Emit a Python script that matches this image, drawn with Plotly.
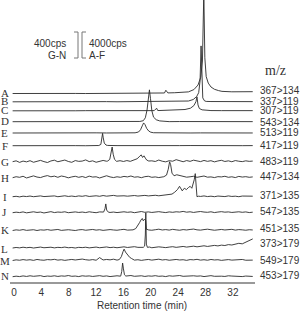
import numpy as np
import plotly.graph_objects as go

# ---------------- data ----------------
LETTERS = list("ABCDEFGHIJKLMN")
TRANSITIONS = ["367>134", "337>119", "307>119", "543>134", "513>119", "417>119",
               "483>119", "447>134", "371>135", "547>135", "451>135", "373>179",
               "549>179", "453>179"]
TIME_TICKS = [0, 4, 8, 12, 16, 20, 24, 28, 32]
T_START, T_END = -0.2, 34.9
SCALE_AF_CPS = 4000   # scale bar for traces A-F
SCALE_GN_CPS = 400    # scale bar for traces G-N

# baseline signal (cps), evenly spaced over the run
NOISE_A = [0, 20, -10, 15, 0, 25, 10, -5, 20, 30, 10, 40, 60, 30, 80, 120, 250, 300, 350, 280, 320, 260, 300, 280]
NOISE_B = [0, 15, -5, 10, 20, 0, 15, 30, 10, 25, 5, 20, 40, 30, 20, 60, 40, 30, 20, 40, 30, 20, 35, 25]
NOISE_C = [0, 20, 0, 15, 10, 30, 5, 20, 15, 35, 10, 25, 40, 20, 30, 50, 30, 40, 20, 35, 25, 30, 15, 25]
NOISE_D = [0, 10, -10, 5, 15, 0, 10, -5, 20, 5, 10, 0, 15, 30, 20, 10, 25, 15, 5, 20, 10, 25, 15, 10]
NOISE_E = [0, 15, 5, -10, 20, 10, 0, 15, 25, 5, 10, 30, 15, 0, 20, 10, 25, 5, 15, 20, 0, 10, 15, 5]
NOISE_F = [0, 20, -10, 15, 30, 0, 10, -5, 25, 10, 15, 0, 20, 10, 30, 5, 15, 25, 0, 20, 10, 30, 5, 15]
NOISE_G = [5, 18, -6, 14, 2, 20, -4, 12, 25, 6, -8, 16, 28, 4, 12, 30, 8, -5, 22, 10,
           14, 32, 6, 18, -4, 10, 24, 12, 2, 20, 8, 26, 14, 0, 16, 6, 28, 10, 20, 4,
           18, 8, 30, 12, 2, 20, 12, 36, 16, 4, 22, 10, 28, 14, 6, 24, 10, 20, 2, 16,
           26, 8, 18, 4, 22, 12, 6, 18, 10, 14]
NOISE_H = [0, 15, 6, 22, -4, 12, 28, 10, 2, 20, 32, 14, 24, 6, 26, 16, -2, 12, 22, 6,
           18, 2, 24, 10, 14, -4, 16, 30, 12, 2, 14, 6, 20, 12, 26, 8, 14, 0, 16, 22,
           6, 12, 2, 16, 10, 20, 28, 12, 32, 18, 8, 14, 22, 6, 18, 26, 8, 12, 2, 16,
           12, 22, 6, 14, 2, 20, 10, 16, 6, 12]
NOISE_I = [0, 6, -3, 8, 2, 10, 0, 6, 12, 2, 8, 4, 12, 0, 8, 14, 4, 10, 2, 12,
           6, 16, 4, 10, 14, 6, 18, 8, 12, 20, 10, 16, 14, 8, 12, 18, 10, 14, 20, 12,
           16, 22, 14, 20, 28, 24, 35, 40, 45, 50, 4, 10, 0, 8, 4, 12, 2, 8, 0, 10,
           6, 2, 12, 4, 8, 0, 10, 6, 2, 8]
NOISE_J = [0, 8, 2, 12, -2, 6, 14, 4, 10, -4, 8, 16, 2, 10, 6, 14, 0, 8, 12, 4,
           10, 2, 14, 6, 0, 12, 8, 16, 4, 10, 2, 8, 14, 6, 12, 0, 10, 18, 6, 12,
           4, 10, 16, 8, 2, 12, 6, 14, 10, 20, 8, 14, 4, 12, 18, 10, 6, 14, 2, 10,
           16, 8, 12, 4, 10, 14, 6, 12, 2, 8]
NOISE_K = [0, 10, 4, 14, 2, 8, 12, 0, 10, 6, 14, 4, 10, 16, 2, 8, 12, 6, 0, 10,
           14, 4, 8, 16, 6, 12, 2, 10, 14, 8, 4, 12, 18, 6, 10, 2, 14, 8, 16, 10,
           4, 12, 20, 8, 14, 6, 18, 10, 4, 14, 8, 16, 22, 10, 6, 14, 20, 12, 4, 10,
           16, 8, 12, 18, 6, 14, 10, 4, 12, 8]
NOISE_L = [0, 8, 2, 12, 4, 10, 0, 6, 14, 4, 8, 12, 2, 10, 6, 14, 4, 8, 0, 10,
           6, 12, 2, 8, 14, 4, 10, 16, 6, 12, 4, 10, 18, 8, 14, 20, 10, 16, 8, 14,
           4, 10, 18, 12, 6, 14, 20, 10, 16, 24, 14, 20, 28, 18, 26, 34, 24, 30, 40, 32,
           44, 38, 52, 46, 60, 72, 64, 90, 110, 140]
NOISE_M = [0, 10, 4, 14, 6, 12, 2, 16, 8, 4, 14, 10, 18, 6, 12, 2, 10, 16, 8, 14,
           22, 12, 6, 14, 4, 45, 8, 16, 10, 20, 6, 12, 4, 10, 14, 6, 12, 2, 10, 16,
           6, 12, 20, 8, 14, 4, 10, 16, 8, 12, 2, 14, 10, 18, 6, 12, 4, 16, 8, 12,
           2, 10, 14, 6, 12, 8, 16, 4, 10, 6]
NOISE_N = [0, 8, 2, 12, 4, 14, 6, 10, 16, 2, 10, 6, 14, 4, 12, 8, 18, 6, 10, 2,
           14, 8, 12, 4, 10, 16, 6, 12, 2, 10, 14, 8, 4, 12, 18, 6, 10, 14, 4, 12,
           8, 16, 6, 10, 2, 14, 8, 12, 18, 6, 10, 4, 14, 8, 12, 2, 10, 16, 6, 12,
           8, 4, 14, 10, 6, 12, 2, 10, 8, 4]

# peak regions: retention time (min) and intensity (cps)
PEAK_T_A = [21.6, 22.0, 22.2, 22.5, 23.5, 24.5, 25.5, 26.3, 26.9, 27.3, 27.55, 27.75, 27.9, 28.1, 28.4, 28.8, 29.3, 29.9, 30.4]
PEAK_V_A = [60, 80, 500, 90, 120, 150, 250, 600, 1300, 2500, 5000, 15500, 5500, 2600, 1600, 1000, 650, 450, 330]
PEAK_T_B = [24.6, 25.5, 26.2, 26.7, 27.0, 27.2, 27.35, 27.45, 27.6, 27.85, 28.1]
PEAK_V_B = [40, 120, 350, 800, 1400, 3200, 8600, 3000, 600, 150, 60]
PEAK_T_C = [20.5, 20.85, 21.0, 21.2, 22.5, 24.0, 25.0, 25.8, 26.3, 26.6, 26.75, 26.9, 27.1, 27.5, 28.0, 28.4]
PEAK_V_C = [30, 400, 60, 40, 80, 120, 200, 400, 800, 1400, 2150, 900, 350, 150, 80, 50]
PEAK_T_D = [18.4, 18.9, 19.2, 19.45, 19.65, 19.8, 19.95, 20.15, 20.4, 20.8, 21.3, 21.7]
PEAK_V_D = [40, 150, 600, 1800, 3800, 4900, 3600, 1700, 700, 300, 120, 60]
PEAK_T_E = [17.7, 18.2, 18.5, 18.75, 18.95, 19.15, 19.4, 19.7, 20.0, 20.4]
PEAK_V_E = [30, 150, 500, 1100, 1550, 1300, 700, 300, 120, 40]
PEAK_T_F = [12.4, 12.7, 12.85, 12.95, 13.05, 13.2, 13.45, 13.7]
PEAK_V_F = [30, 200, 1100, 1900, 1200, 400, 100, 40]
PEAK_T_G = [13.7, 14.0, 14.2, 14.35, 14.5, 14.7, 15.0, 15.5, 16.0, 16.5, 17.0, 17.5, 18.0, 18.3, 18.6, 18.8, 19.0, 19.2, 19.4, 19.7, 20.1]
PEAK_V_G = [15, 40, 140, 230, 120, 40, 10, 20, 8, 22, 10, 25, 50, 80, 110, 70, 95, 60, 30, 15, 20]
PEAK_T_H = [21.9, 22.3, 22.55, 22.75, 22.9, 23.1, 23.4, 23.8]
PEAK_V_H = [15, 40, 130, 245, 200, 70, 30, 45]
PEAK_T_I = [23.1, 23.5, 23.9, 24.2, 24.4, 24.6, 24.9, 25.2, 25.5, 25.75, 26.0, 26.2, 26.35, 26.5, 26.62, 26.75, 27.0]
PEAK_V_I = [40, 70, 110, 160, 120, 90, 130, 110, 140, 160, 130, 200, 260, 355, 150, 0, 8]
PEAK_T_J = [13.1, 13.3, 13.42, 13.55, 13.8]
PEAK_V_J = [10, 60, 135, 40, 8]
PEAK_T_K = [17.4, 17.8, 18.1, 18.35, 18.55, 18.75, 18.9, 19.05, 19.25, 19.35, 19.7]
PEAK_V_K = [10, 30, 70, 120, 160, 185, 150, 170, 160, 20, 8]
PEAK_T_L = [18.9, 19.1, 19.2, 19.27, 19.35, 19.5, 19.8]
PEAK_V_L = [10, 30, 200, 540, 60, 10, 15]
PEAK_T_M = [15.4, 15.7, 15.95, 16.1, 16.3, 16.6, 16.9, 17.2, 17.5]
PEAK_V_M = [15, 60, 140, 175, 130, 80, 50, 30, 20]
PEAK_T_N = [15.6, 15.75, 15.88, 16.0, 16.15, 16.35]
PEAK_V_N = [10, 80, 210, 120, 30, 10]

# ---------------- layout (pixels) ----------------
W, H = 300, 312
PLOT_L, PLOT_R, PLOT_B = 10, 255, 282          # plot area in px
PX_PER_MIN = 6.84
T0_PX = 14
BASELINE_PX = [93.5, 101.8, 110.8, 121.7, 133.0, 145.7, 162.0, 177.7, 196.7, 212.7, 230.5, 248.0, 260.5, 276.7]
LEFT_LABEL_PX = [92.5, 100.5, 109.5, 121.0, 132.5, 145.5, 161.5, 178.0, 196.5, 212.0, 230.5, 248.5, 261.0, 276.0]
RIGHT_LABEL_PX = [90.7, 101.5, 110.5, 122.3, 132.5, 145.5, 161.0, 176.7, 195.5, 211.7, 228.3, 243.3, 260.5, 275.5]
SCALEBAR_PX = 26.0

g = globals()
fig = go.Figure()
for i, L in enumerate(LETTERS):
    noise = g["NOISE_" + L]
    pt, pv = g["PEAK_T_" + L], g["PEAK_V_" + L]
    grid = np.linspace(T_START, T_END, len(noise))
    pts = [(t, v) for t, v in zip(grid, noise) if not (pt[0] <= t <= pt[-1])]
    pts += list(zip(pt, pv))
    pts.sort()
    ts = [p[0] for p in pts]
    cps = np.array([p[1] for p in pts], dtype=float)
    px_per_cps = SCALEBAR_PX / (SCALE_AF_CPS if i < 6 else SCALE_GN_CPS)
    y = -BASELINE_PX[i] + cps * px_per_cps
    fig.add_trace(go.Scatter(x=ts, y=y, mode="lines", line=dict(color="#2a2a2a", width=0.9),
                             hoverinfo="skip", showlegend=False))

def px_x(px):
    return (px - PLOT_L) / (PLOT_R - PLOT_L)

def px_y(py):
    return (PLOT_B - py) / PLOT_B

ann = []
for i, L in enumerate(LETTERS):
    ann.append(dict(text=L, x=px_x(4.5), y=px_y(LEFT_LABEL_PX[i]), xref="paper", yref="paper",
                    xanchor="center", yanchor="middle", showarrow=False,
                    font=dict(family="Liberation Serif", size=11, color="#333")))
    ann.append(dict(text=TRANSITIONS[i], x=px_x(258), y=px_y(RIGHT_LABEL_PX[i]), xref="paper", yref="paper",
                    xanchor="left", yanchor="middle", showarrow=False,
                    font=dict(family="Liberation Sans", size=10, color="#333")))
ann.append(dict(text="m/z", x=px_x(275), y=px_y(70), xref="paper", yref="paper",
                xanchor="center", yanchor="middle", showarrow=False,
                font=dict(family="Liberation Serif", size=14, color="#333")))
for txt, xx, yy, anc in [("400cps", 68, 43, "right"), ("G-N", 68, 55, "right"),
                         ("4000cps", 87, 43, "left"), ("A-F", 87, 55, "left")]:
    ann.append(dict(text=txt, x=px_x(xx), y=px_y(yy), xref="paper", yref="paper",
                    xanchor=anc, yanchor="middle", showarrow=False,
                    font=dict(family="Liberation Sans", size=10, color="#333")))
ann.append(dict(text="Retention time (min)", x=px_x(142), y=px_y(305), xref="paper", yref="paper",
                xanchor="center", yanchor="middle", showarrow=False,
                font=dict(family="Liberation Sans", size=10, color="#333")))

shapes = []
for path in ["M {a},{t} L {b},{t} L {b},{bt} L {a},{bt}".format(a=px_x(74), b=px_x(78), t=px_y(32), bt=px_y(58)),
             "M {a},{t} L {b},{t} L {b},{bt} L {a},{bt}".format(a=px_x(86), b=px_x(82), t=px_y(32), bt=px_y(58))]:
    shapes.append(dict(type="path", path=path, xref="paper", yref="paper",
                       line=dict(color="#777", width=1)))

fig.update_layout(
    width=W, height=H,
    margin=dict(l=PLOT_L, r=W - PLOT_R, t=0, b=H - PLOT_B, pad=0),
    paper_bgcolor="white", plot_bgcolor="white",
    annotations=ann, shapes=shapes,
    xaxis=dict(range=[(PLOT_L - T0_PX) / PX_PER_MIN, (PLOT_R - T0_PX) / PX_PER_MIN],
               tickvals=TIME_TICKS, ticks="", showgrid=False, zeroline=False,
               showline=True, linecolor="#999", linewidth=2,
               tickfont=dict(family="Liberation Sans", size=10, color="#333")),
    yaxis=dict(range=[-PLOT_B, 0], visible=False, fixedrange=True),
)
fig.write_html("out.html")
